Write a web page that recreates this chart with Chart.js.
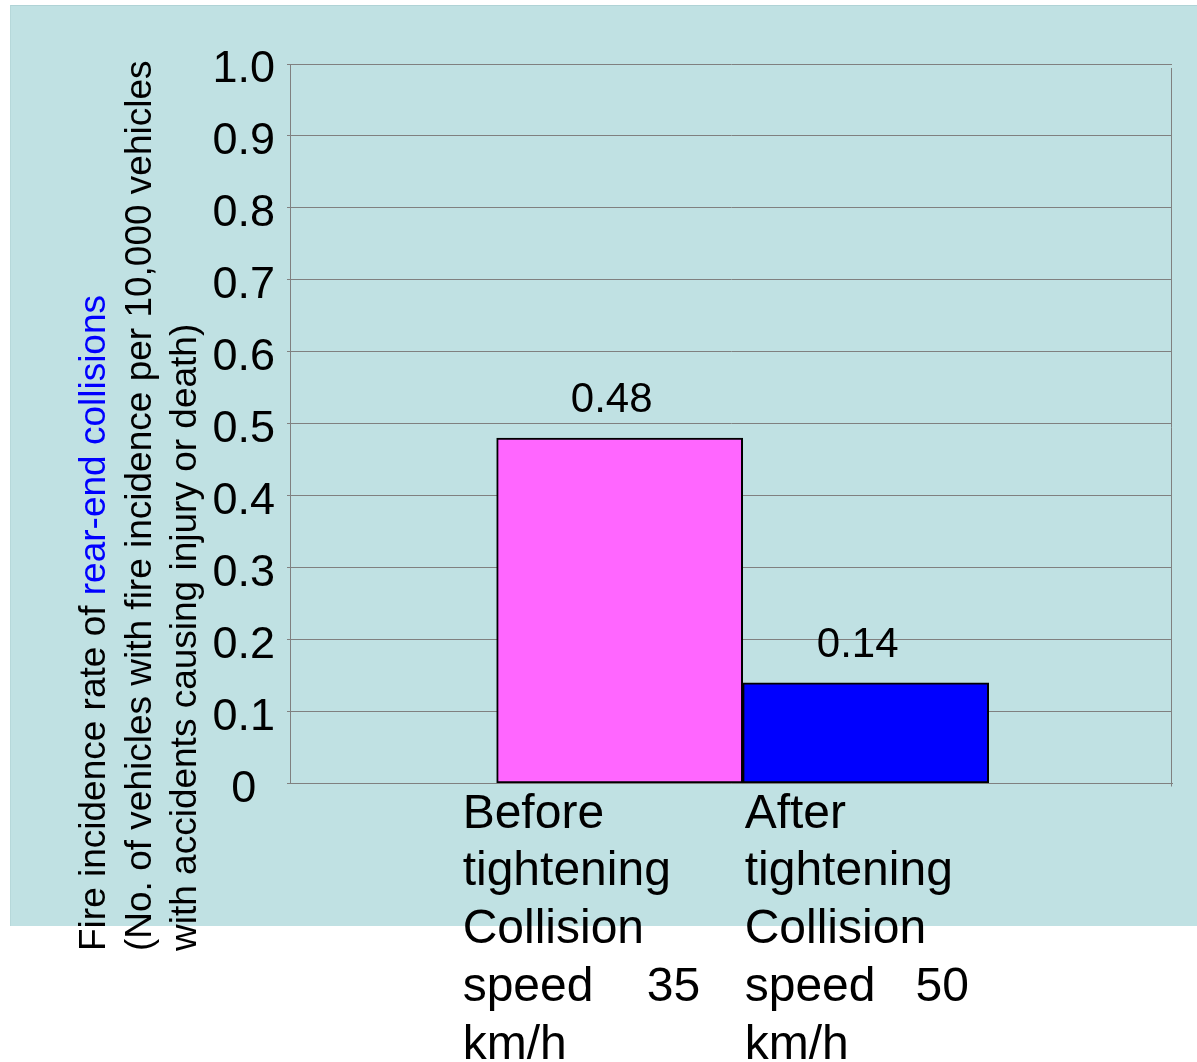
<!DOCTYPE html>
<html>
<head>
<meta charset="utf-8">
<script src="https://cdn.jsdelivr.net/npm/chart.js@4.4.1/dist/chart.umd.min.js"></script>
<style>
  html, body { margin: 0; padding: 0; background: #fff; }
  #wrap { position: relative; width: 1197px; height: 1062px; overflow: hidden; }
  #panel {
    position: absolute; left: 10px; top: 5px; width: 1187px; height: 921px;
    background: #c0e1e3; border-top: 1px solid #b0d3d6; border-left: 1px solid #b6d8da;
    box-sizing: border-box;
  }
  #chart { position: absolute; left: 0; top: 0; }
</style>
</head>
<body>
<div id="wrap">
  <div id="panel"></div>
  <canvas id="chart" width="1197" height="1062"></canvas>
</div>
<script>
// === DATA ===
const categories = [
  ['Before', 'tightening', 'Collision', 'speed    35', 'km/h'],
  ['After', 'tightening', 'Collision', 'speed   50', 'km/h']
];
const rates = [0.48, 0.14];
const barColors = ['#ff66ff', '#0000ff'];
const yTicks = [0, 0.1, 0.2, 0.3, 0.4, 0.5, 0.6, 0.7, 0.8, 0.9, 1.0];
const titleLines = [
  [['Fire incidence rate of ', '#000'], ['rear-end collisions', '#0000ff']],
  [['(No. of vehicles with fire incidence per 10,000 vehicles', '#000']],
  [['with accidents causing injury or death)', '#000']]
];

const FONT = '"Liberation Sans", Arial, sans-serif';
const GRID = '#808080';
// shift of each category label's left edge from its bar's left edge
const labelShift = [-34, 2];

// === PLUGINS ===
const frameLine = {
  id: 'frameLine',
  beforeDatasetsDraw(chart) {
    const { ctx, chartArea: a } = chart;
    ctx.save();
    ctx.strokeStyle = GRID;
    ctx.lineWidth = 1;
    ctx.beginPath();
    ctx.moveTo(Math.round(a.right) - 0.5, a.top + 4);
    ctx.lineTo(Math.round(a.right) - 0.5, a.bottom + 3);
    ctx.stroke();
    ctx.restore();
  }
};

const valueLabels = {
  id: 'valueLabels',
  afterDatasetsDraw(chart) {
    const { ctx } = chart;
    const bars = chart.getDatasetMeta(0).data;
    ctx.save();
    ctx.font = '42px ' + FONT;
    ctx.fillStyle = '#000';
    ctx.textAlign = 'center';
    ctx.textBaseline = 'alphabetic';
    bars.forEach((bar, i) => {
      ctx.fillText(rates[i].toFixed(2), bar.x - 8, bar.y - 26);
    });
    ctx.restore();
  }
};

const categoryLabels = {
  id: 'categoryLabels',
  afterDraw(chart) {
    const { ctx, chartArea: a } = chart;
    const bars = chart.getDatasetMeta(0).data;
    ctx.save();
    ctx.font = '48px ' + FONT;
    ctx.fillStyle = '#000';
    ctx.textAlign = 'left';
    ctx.textBaseline = 'alphabetic';
    bars.forEach((bar, i) => {
      const left = bar.x - bar.width / 2 + labelShift[i];
      categories[i].forEach((line, j) => {
        ctx.fillText(line, left, a.bottom + 44 + j * 57.75);
      });
    });
    ctx.restore();
  }
};

const axisTitle = {
  id: 'axisTitle',
  afterDraw(chart) {
    const { ctx } = chart;
    ctx.save();
    ctx.font = '37px ' + FONT;
    ctx.textAlign = 'left';
    ctx.textBaseline = 'alphabetic';
    titleLines.forEach((runs, i) => {
      ctx.save();
      ctx.translate(105 + i * 45.5, 951);
      ctx.rotate(-Math.PI / 2);
      let x = 0;
      runs.forEach(([text, color]) => {
        ctx.fillStyle = color;
        ctx.fillText(text, x, 0);
        x += ctx.measureText(text).width;
      });
      ctx.restore();
    });
    ctx.restore();
  }
};

// === CHART ===
new Chart(document.getElementById('chart'), {
  type: 'bar',
  data: {
    datasets: [{
      data: rates.map((v, i) => ({ x: i + 1, y: v })),
      backgroundColor: barColors,
      borderColor: '#000',
      borderWidth: 2,
      borderSkipped: false,
      categoryPercentage: 1,
      barPercentage: 1
    }]
  },
  options: {
    responsive: false,
    animation: false,
    events: [],
    layout: { padding: { left: 210, top: 64, right: 25, bottom: 278.5 } },
    plugins: { legend: { display: false }, tooltip: { enabled: false } },
    scales: {
      x: {
        type: 'linear',
        offset: false,
        bounds: 'data',
        min: -0.34,
        max: 3.245,
        afterBuildTicks: s => { s.ticks = rates.map((v, i) => ({ value: i + 1 })); },
        afterFit: s => { s.height = 0; },
        ticks: { display: false },
        grid: { drawOnChartArea: false, drawTicks: false, offset: false },
        border: { color: GRID, width: 1 }
      },
      y: {
        min: 0,
        max: 1,
        afterBuildTicks: s => { s.ticks = yTicks.map(v => ({ value: v })); },
        afterFit: s => { s.width = 80; },
        ticks: {
          callback: v => (v === 0 ? '0' : v.toFixed(1)),
          font: { family: FONT, size: 45 },
          color: '#000',
          crossAlign: 'center',
          padding: 12,
          labelOffset: 6
        },
        grid: { color: GRID, lineWidth: 1, tickLength: 3 },
        border: { color: GRID, width: 1 }
      }
    }
  },
  plugins: [frameLine, valueLabels, categoryLabels, axisTitle]
});
</script>
</body>
</html>
